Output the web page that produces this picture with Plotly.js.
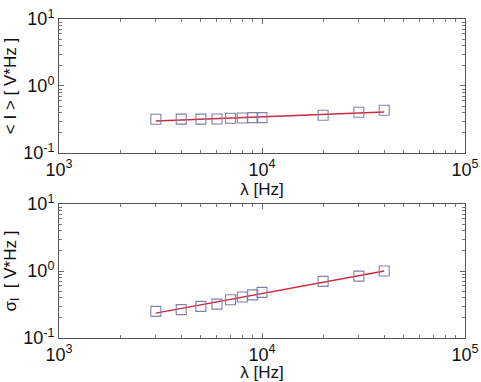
<!DOCTYPE html>
<html>
<head>
<meta charset="utf-8">
<script src="https://cdn.plot.ly/plotly-3.0.1.min.js"></script>
<style>
  html, body { margin: 0; padding: 0; background: #fff; }
  #chart { width: 481px; height: 382px; }
</style>
</head>
<body>
<div id="chart"></div>
<script>
// frequencies (Hz)
const FREQ = [3000, 4000, 5000, 6000, 7000, 8000, 9000, 10000, 20000, 30000, 40000];

// top panel: mean intensity <I>
const MEAN_I = [0.318, 0.32, 0.32, 0.322, 0.33, 0.332, 0.337, 0.337, 0.365, 0.405, 0.434];
// bottom panel: sigma_I
const SIGMA_I = [0.25, 0.265, 0.297, 0.32, 0.373, 0.41, 0.44, 0.48, 0.70, 0.84, 1.0];

// fitted lines (red), read at both ends
const FIT_X = [3000, 40000];
const FIT_MEAN = [0.30, 0.41];
const FIT_SIGMA = [0.235, 1.0];

// tick labels
const X_TICKS = [1e3, 1e4, 1e5];
const X_LABELS = ["10<sup>3</sup>", "10<sup>4</sup>", "10<sup>5</sup>"];
const Y_TICKS = [0.1, 1, 10];
const Y_LABELS = ["10<sup>-1</sup>", "10<sup>0</sup>", "10<sup>1</sup>"];

const MARK_COLOR = "#8080a8";
const LINE_COLOR = "#cc2a3c";

function pts(x, y, xa, ya) {
     return {
          x: x, y: y, xaxis: xa, yaxis: ya,
          mode: "markers", type: "scatter",
          marker: { symbol: "square-open", size: 10, color: MARK_COLOR, line: { width: 1.1 } },
          hoverinfo: "skip"
     };
}
function fit(x, y, xa, ya) {
     return {
          x: x, y: y, xaxis: xa, yaxis: ya,
          mode: "lines", type: "scatter",
          line: { color: LINE_COLOR, width: 1.4 },
          hoverinfo: "skip"
     };
}

const DATA = [
     fit(FIT_X, FIT_MEAN, "x", "y"),
     pts(FREQ, MEAN_I, "x", "y"),
     fit(FIT_X, FIT_SIGMA, "x2", "y2"),
     pts(FREQ, SIGMA_I, "x2", "y2")
];

const FONT = { family: "Arial", size: 17, color: "#111" };

function xAxis(anchor) {
     return {
          type: "log", range: [3, 5], anchor: anchor,
          tickvals: X_TICKS, ticktext: X_LABELS,
          ticks: "inside", ticklen: 5, tickcolor: "#666",
          minor: { ticks: "inside", ticklen: 3, dtick: "D1", tickcolor: "#777" },
          showline: true, linecolor: "#555", linewidth: 1, mirror: "allticks",
          showgrid: false, zeroline: false,
          tickfont: { family: "Arial", size: 18 },
          title: { text: "λ [Hz]", font: { family: "Arial", size: 17 }, standoff: 0 }
     };
}
function yAxis(anchor, domain, title) {
     return {
          type: "log", range: [-1, 1], anchor: anchor, domain: domain,
          tickvals: Y_TICKS, ticktext: Y_LABELS,
          ticks: "inside", ticklen: 5, tickcolor: "#666",
          minor: { ticks: "inside", ticklen: 3, dtick: "D1", tickcolor: "#777" },
          showline: true, linecolor: "#555", linewidth: 1, mirror: "allticks",
          showgrid: false, zeroline: false,
          tickfont: { family: "Arial", size: 18 },
          title: { text: title, font: { family: "Arial", size: 17 }, standoff: 2 }
     };
}

const LAYOUT = {
     width: 481, height: 382,
     margin: { l: 59, r: 16, t: 19, b: 44 },
     showlegend: false,
     font: FONT,
     paper_bgcolor: "#fff", plot_bgcolor: "#fff",
     xaxis: xAxis("y"),
     yaxis: yAxis("x", [0.58, 1], "< I > [ V*Hz ]"),
     xaxis2: xAxis("y2"),
     yaxis2: yAxis("x2", [0, 0.42], "σ<sub>I</sub>  [ V*Hz ]")
};

Plotly.newPlot("chart", DATA, LAYOUT, { staticPlot: true });
</script>
</body>
</html>
